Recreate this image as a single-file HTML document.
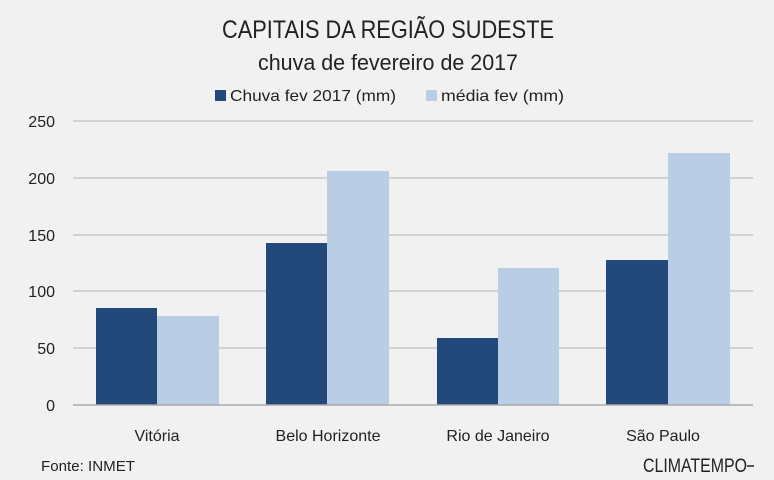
<!DOCTYPE html>
<html><head><meta charset="utf-8"><style>
html,body{margin:0;padding:0;background:#f1f1f1;}
svg{display:block}
text{font-family:"Liberation Sans Narrow","Liberation Sans",sans-serif;fill:#222}
</style></head><body>
<svg width="774" height="480" viewBox="0 0 774 480">
<rect width="774" height="480" fill="#f1f1f1"/>
<text x="222" y="38" font-size="25" textLength="332" lengthAdjust="spacingAndGlyphs">CAPITAIS DA REGIÃO SUDESTE</text>
<text x="258" y="70" font-size="22" textLength="260" lengthAdjust="spacingAndGlyphs">chuva de fevereiro de 2017</text>
<rect x="215" y="90" width="11" height="11" fill="#23487a"/>
<text x="230" y="101" font-size="16" textLength="166" lengthAdjust="spacingAndGlyphs">Chuva fev 2017 (mm)</text>
<rect x="426" y="90" width="11" height="11" fill="#b9cde5"/>
<text x="441" y="101" font-size="16" textLength="123" lengthAdjust="spacingAndGlyphs">média fev (mm)</text>
<g stroke="#c8c8c8" stroke-width="1.5">
<line x1="73" x2="753" y1="121" y2="121"/><line x1="73" x2="753" y1="178" y2="178"/>
<line x1="73" x2="753" y1="235" y2="235"/><line x1="73" x2="753" y1="291" y2="291"/>
<line x1="73" x2="753" y1="348" y2="348"/>
</g>
<g font-size="16" text-anchor="end">
<text x="55" y="127">250</text><text x="55" y="184">200</text><text x="55" y="241">150</text>
<text x="55" y="297">100</text><text x="55" y="354">50</text><text x="55" y="411">0</text>
</g>
<g fill="#23487a">
<rect x="96" y="308" width="61" height="97"/><rect x="266" y="243" width="61" height="162"/>
<rect x="437" y="338" width="61" height="67"/><rect x="606" y="260" width="62" height="145"/>
</g>
<g fill="#b9cde5">
<rect x="157" y="316" width="62" height="89"/><rect x="327" y="171" width="62" height="234"/>
<rect x="498" y="268" width="61" height="137"/><rect x="668" y="153" width="62" height="252"/>
</g>
<line x1="73" x2="753" y1="405" y2="405" stroke="#aaa" stroke-width="1.5"/>
<g font-size="16" text-anchor="middle">
<text x="157" y="441">Vitória</text><text x="328" y="441">Belo Horizonte</text>
<text x="498" y="441">Rio de Janeiro</text><text x="663" y="441">São Paulo</text>
</g>
<text x="41" y="471" font-size="15" textLength="94" lengthAdjust="spacingAndGlyphs">Fonte: INMET</text>
<text x="643" y="472" font-size="19" textLength="104" lengthAdjust="spacingAndGlyphs">CLIMATEMPO</text>
<line x1="747" y1="466" x2="754" y2="466" stroke="#222" stroke-width="1.5"/>
</svg>
</body></html>
